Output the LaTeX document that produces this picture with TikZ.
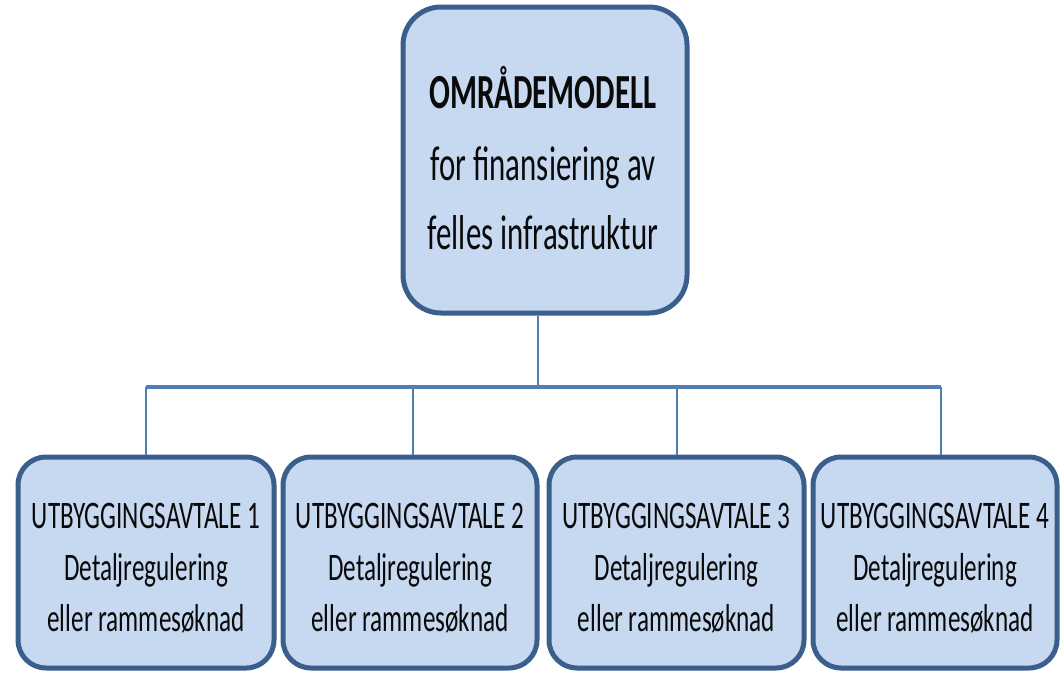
\documentclass[tikz,border=0pt]{standalone}
\usepackage{fontspec}
\setmainfont{Carlito}
\newfontfamily\topfont[FakeStretch=0.63]{Carlito}
\newfontfamily\botfont[FakeStretch=0.645]{Carlito}
\definecolor{boxfill}{RGB}{198,217,240}
\definecolor{boxedge}{RGB}{58,95,140}
\definecolor{linkc}{RGB}{79,125,180}
\definecolor{txt}{RGB}{10,10,10}
\begin{document}
\begin{tikzpicture}[x=1pt,y=-1pt,
  box/.style={draw=boxedge, line width=5pt, fill=boxfill, inner sep=0pt},
  topbox/.style={box, rounded corners=38pt, minimum width=284pt, minimum height=306pt},
  botbox/.style={box, rounded corners=28pt, minimum height=211pt},
  toptext/.style={anchor=base, inner sep=0pt, text=txt, font=\topfont\fontsize{49}{58}\selectfont},
  bottext/.style={anchor=base, inner sep=0pt, text=txt, font=\botfont\fontsize{39}{50}\selectfont},
  link/.style={draw=linkc, line width=2pt},
  bus/.style={draw=linkc, line width=4pt}]
\useasboundingbox (0,0) rectangle (1064,673);
\node[topbox] (top) at (545,160) {};
\node[botbox, minimum width=256pt] (b1) at (146,562.5) {};
\node[botbox, minimum width=254pt] (b2) at (410,562.5) {};
\node[botbox, minimum width=255pt] (b3) at (676.5,562.5) {};
\node[botbox, minimum width=244pt] (b4) at (935,562.5) {};
\node[toptext] (topa) at (543,108) {\textbf{OMRÅDEMODELL}};
\node[toptext] (topb) at (543,180) {for finansiering av};
\node[toptext] (topc) at (543,249) {felles infrastruktur};
\foreach \i in {1,2,3,4}{
  \node[bottext] (b\i a) at (b\i.center |- 0,528) {UTBYGGINGSAVTALE \i};
  \node[bottext] (b\i b) at (b\i.center |- 0,580) {Detaljregulering};
  \node[bottext] (b\i c) at (b\i.center |- 0,631) {eller rammesøknad};
}
\coordinate (busy) at (0,387);
\draw[link] ([xshift=-7pt]top.south) -- ([xshift=-7pt]top.south |- busy);
\draw[bus] (b1.north |- busy) -- ([xshift=6pt]b4.north |- busy);
\draw[link] (b1.north |- busy) -- (b1.north);
\draw[link] ([xshift=3pt]b2.north |- busy) -- ([xshift=3pt]b2.north);
\draw[link] (b3.north |- busy) -- (b3.north);
\draw[link] ([xshift=6pt]b4.north |- busy) -- ([xshift=6pt]b4.north);
\end{tikzpicture}
\end{document}
